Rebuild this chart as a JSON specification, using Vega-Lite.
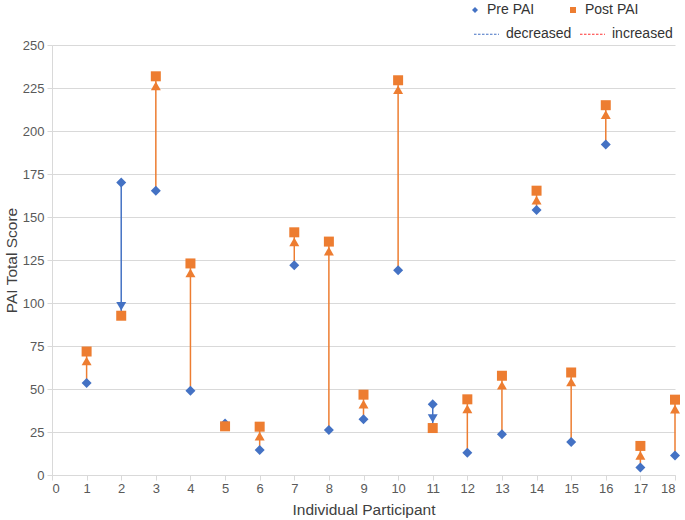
{
  "$schema": "https://vega.github.io/schema/vega-lite/v6.json",
  "width": 623,
  "height": 430,
  "autosize": {"type": "none"},
  "padding": {"left": 52, "top": 45, "right": 10, "bottom": 45},
  "background": "white",
  "config": {
    "font": "Liberation Sans",
    "view": {"stroke": null},
    "axis": {
      "domainColor": "#d9d9d9",
      "tickColor": "#d9d9d9",
      "gridColor": "#d9d9d9",
      "tickSize": 5,
      "labelFont": "Liberation Sans",
      "labelFontSize": 13,
      "labelColor": "#595959",
      "titleFont": "Liberation Sans",
      "titleFontSize": 15.5,
      "titleFontWeight": "normal",
      "titleColor": "#404040"
    },
    "legend": {
      "labelFont": "Liberation Sans",
      "labelFontSize": 14,
      "labelColor": "#333333"
    }
  },
  "data": {
    "values": [
      {"p": 1, "Pre PAI": 53.5, "Post PAI": 71.8},
      {"p": 2, "Pre PAI": 170, "Post PAI": 92.6},
      {"p": 3, "Pre PAI": 165.3, "Post PAI": 231.8},
      {"p": 4, "Pre PAI": 49, "Post PAI": 123},
      {"p": 5, "Pre PAI": 30, "Post PAI": 28.3},
      {"p": 6, "Pre PAI": 14.5, "Post PAI": 28.1},
      {"p": 7, "Pre PAI": 121.9, "Post PAI": 141.1},
      {"p": 8, "Pre PAI": 26.2, "Post PAI": 135.7},
      {"p": 9, "Pre PAI": 32.4, "Post PAI": 46.7},
      {"p": 10, "Pre PAI": 119, "Post PAI": 229.5},
      {"p": 11, "Pre PAI": 41.2, "Post PAI": 27.3},
      {"p": 12, "Pre PAI": 12.9, "Post PAI": 44},
      {"p": 13, "Pre PAI": 23.7, "Post PAI": 57.7},
      {"p": 14, "Pre PAI": 154.1, "Post PAI": 165.3},
      {"p": 15, "Pre PAI": 19.2, "Post PAI": 59.6},
      {"p": 16, "Pre PAI": 192.2, "Post PAI": 215},
      {"p": 17, "Pre PAI": 4.4, "Post PAI": 16.9},
      {"p": 18, "Pre PAI": 11.3, "Post PAI": 43.8}
    ]
  },
  "encoding": {
    "x": {
      "field": "p",
      "type": "quantitative",
      "scale": {"domain": [0, 18], "nice": false, "zero": false},
      "axis": {
        "values": [0, 1, 2, 3, 4, 5, 6, 7, 8, 9, 10, 11, 12, 13, 14, 15, 16, 17, 18],
        "grid": false,
        "labelPadding": 2,
        "titlePadding": 7,
        "title": "Individual Participant"
      }
    }
  },
  "layer": [
    {
      "data": {"values": [{"key": "Pre PAI"}, {"key": "Post PAI"}]},
      "transform": [{"filter": "false"}],
      "mark": {"type": "point", "filled": true, "opacity": 1, "size": 36},
      "encoding": {
        "color": {
          "field": "key",
          "type": "nominal",
          "scale": {"domain": ["Pre PAI", "Post PAI"], "range": ["#4472C4", "#ED7D31"]},
          "legend": {
            "title": null,
            "orient": "none",
            "direction": "horizontal",
            "legendX": 416,
            "legendY": -42,
            "symbolSize": 36,
            "labelOffset": 5,
            "columnPadding": 31
          }
        },
        "shape": {
          "field": "key",
          "type": "nominal",
          "scale": {"domain": ["Pre PAI", "Post PAI"], "range": ["diamond", "square"]},
          "legend": {
            "title": null,
            "orient": "none",
            "direction": "horizontal",
            "legendX": 416,
            "legendY": -42,
            "symbolSize": 36,
            "labelOffset": 5,
            "columnPadding": 31
          }
        }
      }
    },
    {
      "transform": [{"filter": "datum['Post PAI'] > datum['Pre PAI']"}],
      "mark": {"type": "rule", "color": "#ED7D31", "strokeWidth": 1.5},
      "encoding": {
        "y": {
          "field": "Pre PAI",
          "type": "quantitative",
          "scale": {"domain": [0, 250], "nice": false},
          "axis": {
            "values": [0, 25, 50, 75, 100, 125, 150, 175, 200, 225, 250],
            "grid": true,
            "labelPadding": 3,
            "titlePadding": 3,
            "title": "PAI Total  Score"
          }
        },
        "y2": {"field": "Post PAI"}
      }
    },
    {
      "transform": [{"filter": "datum['Post PAI'] < datum['Pre PAI']"}],
      "mark": {"type": "rule", "color": "#4472C4", "strokeWidth": 1.5},
      "encoding": {
        "y": {"field": "Pre PAI", "type": "quantitative"},
        "y2": {"field": "Post PAI"}
      }
    },
    {
      "transform": [{"fold": ["Pre PAI", "Post PAI"], "as": ["key", "value"]}],
      "mark": {"type": "point", "filled": true, "opacity": 1, "size": 100},
      "encoding": {
        "y": {"field": "value", "type": "quantitative"},
        "color": {"field": "key", "type": "nominal"},
        "shape": {"field": "key", "type": "nominal"}
      }
    },
    {
      "transform": [{"filter": "datum['Post PAI'] - datum['Pre PAI'] > 5"}],
      "mark": {"type": "point", "shape": "triangle-up", "filled": true, "opacity": 1, "color": "#ED7D31", "size": 100, "yOffset": 9.5},
      "encoding": {
        "y": {"field": "Post PAI", "type": "quantitative"}
      }
    },
    {
      "transform": [{"filter": "datum['Pre PAI'] - datum['Post PAI'] > 5"}],
      "mark": {"type": "point", "shape": "triangle-down", "filled": true, "opacity": 1, "color": "#4472C4", "size": 100, "yOffset": -9.5},
      "encoding": {
        "y": {"field": "Post PAI", "type": "quantitative"}
      }
    },
    {
      "data": {"values": [{"line": "decreased"}, {"line": "increased"}]},
      "transform": [{"filter": "false"}],
      "mark": {"type": "rule", "strokeDash": [2.5, 1.5], "strokeWidth": 1.2},
      "encoding": {
        "stroke": {
          "field": "line",
          "type": "nominal",
          "scale": {"domain": ["decreased", "increased"], "range": ["#4472C4", "#FF3333"]},
          "legend": {
            "title": null,
            "orient": "none",
            "direction": "horizontal",
            "legendX": 421,
            "legendY": -24.5,
            "symbolType": "stroke",
            "symbolSize": 625,
            "symbolStrokeWidth": 1.2,
            "symbolDash": [2.5, 1.5],
            "labelOffset": 6,
            "columnPadding": 5
          }
        }
      }
    }
  ]
}
